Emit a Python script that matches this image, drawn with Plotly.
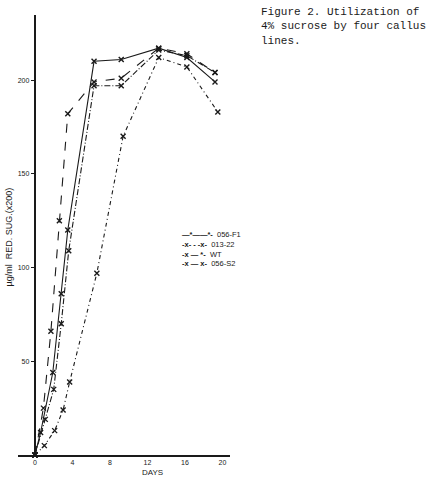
import plotly.graph_objects as go

# Data (days, reducing sugar µg/ml x200)
days_f1 = [0, 0.6, 1.9, 2.8, 3.5, 6.3, 9.2, 13.2, 16.2, 19.2]
sug_f1 = [0, 12, 44, 86, 120, 210, 211, 217, 212, 199]

days_013 = [0, 0.9, 1.7, 2.6, 3.5, 6.3, 9.2, 13.2, 16.2, 19.2]
sug_013 = [0, 25, 66, 125, 182, 199, 201, 217, 214, 204]

days_wt = [0, 1.0, 2.1, 3.0, 3.7, 6.6, 9.4, 13.2, 16.2, 19.5]
sug_wt = [0, 5, 13, 24, 39, 97, 170, 212, 207, 183]

days_s2 = [0, 1.1, 2.0, 2.8, 3.6, 6.3, 9.2, 13.2, 16.2, 19.2]
sug_s2 = [0, 19, 35, 70, 109, 197, 197, 216, 213, 204]

x_ticks = [0, 4, 8, 12, 16, 20]
y_ticks = [50, 100, 150, 200]

INK = "#1a1a1a"
FONT = "Liberation Sans"

series = [
    ("056-F1", days_f1, sug_f1, "solid", "—*——*-"),
    ("013-22", days_013, sug_013, "dash", "-x- - -x-"),
    ("WT", days_wt, sug_wt, "4px,3px,1px,3px", "-x — *-"),
    ("056-S2", days_s2, sug_s2, "6px,2px,1px,2px", "-x — x-"),
]

fig = go.Figure()
for name, xs, ys, dash, _ in series:
    fig.add_trace(go.Scatter(
        x=xs, y=ys, name=name, mode="lines+markers",
        line=dict(color=INK, width=1.1, dash=dash),
        marker=dict(symbol="x-thin-open", size=5, line=dict(color=INK, width=1.4)),
        cliponaxis=False, showlegend=False,
    ))

xmin, xmax = -1.81, 20.8
ypos = (0 - xmin) / (xmax - xmin)

legend_text = "<br>".join(f"<b>{sample}</b>  {name}" for name, _, _, _, sample in series)

fig.update_layout(
    width=429, height=481,
    margin=dict(l=18, r=199, t=15, b=26),
    paper_bgcolor="white", plot_bgcolor="white",
    showlegend=False,
    xaxis=dict(
        range=[xmin, xmax], tickvals=x_ticks, ticks="", showgrid=False,
        zeroline=False, showline=True, linecolor=INK, linewidth=2,
        tickfont=dict(family=FONT, size=7, color=INK),
    ),
    yaxis=dict(
        range=[0, 234.7], tickvals=y_ticks, ticks="outside", ticklen=3,
        tickcolor=INK, showgrid=False, zeroline=False, showline=True,
        linecolor=INK, linewidth=2.3, anchor="free", position=ypos,
        tickfont=dict(family=FONT, size=7, color=INK),
    ),
    annotations=[
        dict(text="DAYS", x=12.5, y=0, xref="x", yref="y", yshift=-17,
             showarrow=False, font=dict(family=FONT, size=8, color=INK)),
        dict(text="µg/ml  RED. SUG.(x200)", x=0.0, xref="paper", xshift=-16,
             y=116, yref="y", textangle=-90, showarrow=False,
             font=dict(family="Liberation Sans Narrow, " + FONT, size=9, color=INK)),
        dict(text=legend_text, x=(180 - 18) / 212, xref="paper", y=(455 - 228) / 440,
             yref="paper", xanchor="left", yanchor="top", align="left",
             showarrow=False, font=dict(family=FONT, size=7.5, color=INK)),
        dict(text="Figure 2. Utilization of<br>4% sucrose by four callus<br>lines.",
             xref="paper", yref="paper", x=(262 - 18) / 212, xshift=-3,
             y=1 + 11 / 440, xanchor="left", yanchor="top", align="left",
             showarrow=False,
             font=dict(family="Liberation Mono", size=11, color=INK)),
    ],
)

fig.write_html("out.html")
